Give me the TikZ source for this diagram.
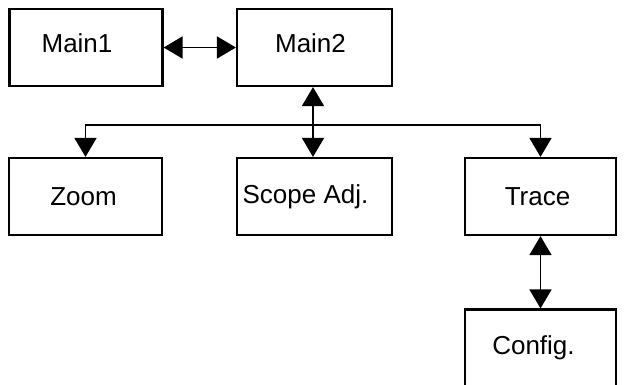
\documentclass[tikz,border=0pt]{standalone}
\usepackage{fontspec}
\setmainfont{Liberation Sans}
\usetikzlibrary{arrows.meta}
\tikzset{
    modbox/.style={draw, line width=2.2pt, rectangle, minimum width=153pt, minimum height=77pt, inner sep=0pt},
    tag/.style={font=\fontsize{26}{30}\selectfont, inner sep=0pt},
    link/.style={line width=1.7pt, {Triangle[length=19pt, width=22pt]}-{Triangle[length=19pt, width=22pt]}},
    onelink/.style={line width=1.7pt, -{Triangle[length=19pt, width=22pt]}}
}
\begin{document}
\begin{tikzpicture}[x=1pt, y=-1pt]
    \useasboundingbox (0,0) rectangle (624,384);
    \node[modbox, label={[tag, xshift=-9pt, yshift=4pt]center:Main1}] (main1) at (86,47.5) {};
    \node[modbox, minimum width=155pt, label={[tag, xshift=-4pt, yshift=4pt]center:Main2}] (main2) at (314.5,47.5) {};
    \node[modbox, label={[tag, xshift=-2pt]center:Zoom}] (zoom) at (85.5,196.5) {};
    \node[modbox, minimum width=155pt, label={[tag, xshift=-9pt]center:Scope Adj.}] (scope) at (314.5,196.5) {};
    \node[modbox, minimum width=151pt, label={[tag, xshift=-3pt]center:Trace}] (trace) at (540.5,196.5) {};
    \node[modbox, minimum width=151pt, label={[tag, xshift=-7pt]center:Config.}] (config) at (540.5,348) {};
    \coordinate (bus) at (313,125);
    \draw[link] (main1) -- (main2);
    \draw[link] (main2.south -| bus) -- (scope.north -| bus);
    \draw[onelink] (bus) -| (zoom.north);
    \draw[onelink] (bus) -| (trace.north);
    \draw[link] (trace) -- (config);
\end{tikzpicture}
\end{document}
